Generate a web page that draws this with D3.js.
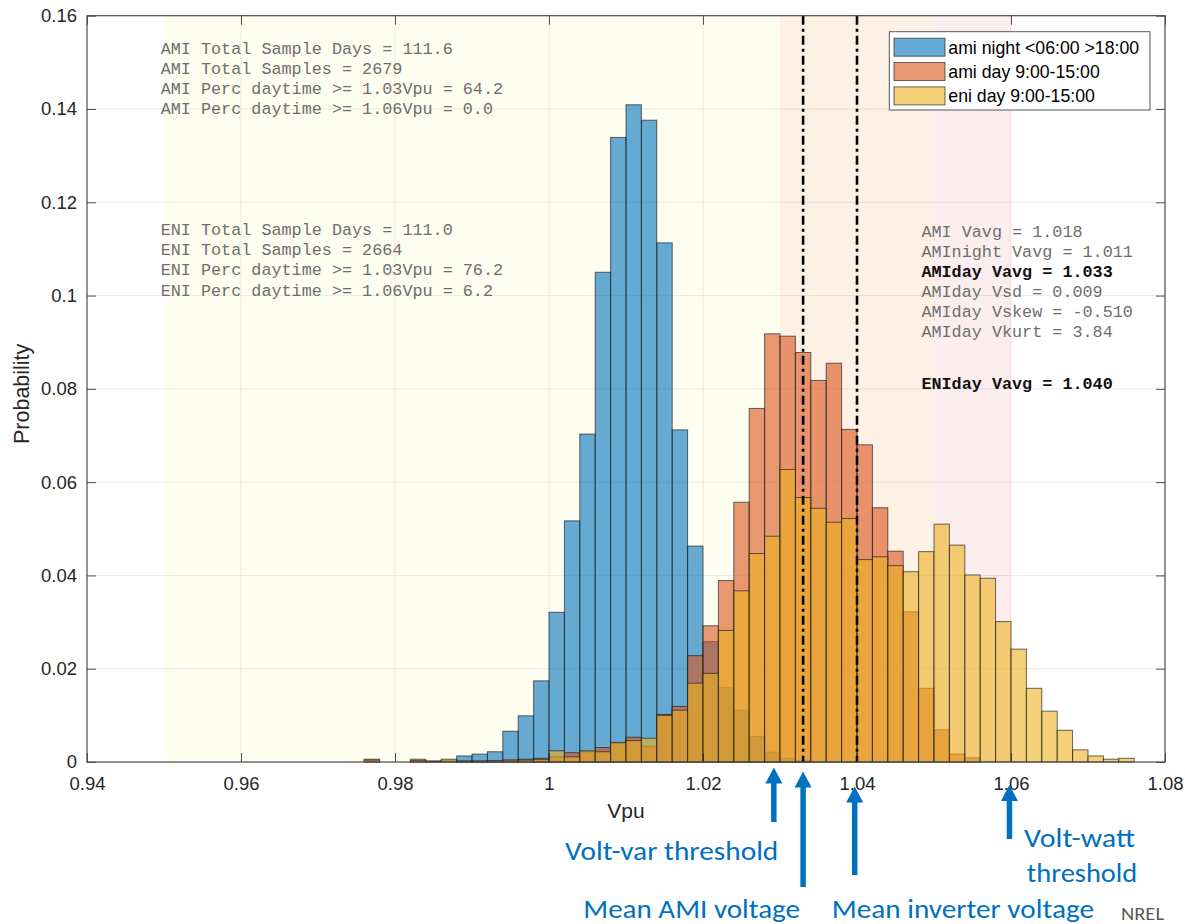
<!DOCTYPE html>
<html>
<head>
<meta charset="utf-8">
<script src="https://cdn.jsdelivr.net/npm/d3@7"></script>
<style>
  body { margin: 0; background: #ffffff; }
  svg { display: block; }
</style>
</head>
<body>
<svg id="chart" width="1185" height="924"></svg>
<script>
// ---- Histogram bins (left edges, Vpu) ----
const binStarts = [
  0.976, 0.978, 0.980, 0.982, 0.984, 0.986, 0.988, 0.990, 0.992, 0.994,
  0.996, 0.998, 1.000, 1.002, 1.004, 1.006, 1.008, 1.010, 1.012, 1.014,
  1.016, 1.018, 1.020, 1.022, 1.024, 1.026, 1.028, 1.030, 1.032, 1.034,
  1.036, 1.038, 1.040, 1.042, 1.044, 1.046, 1.048, 1.050, 1.052, 1.054,
  1.056, 1.058, 1.060, 1.062, 1.064, 1.066, 1.068, 1.070, 1.072, 1.074
];
const binWidth = 0.002;

// ---- Probabilities per bin ----
const amiNight = [
  0, 0, 0, 0, 0.0002, 0.0004, 0.0013, 0.0017, 0.0022, 0.0066,
  0.0099, 0.0174, 0.0321, 0.0517, 0.0703, 0.1050, 0.1339, 0.1409, 0.1376, 0.1113,
  0.0712, 0.0463, 0.0258, 0.0160, 0.0111, 0.0055, 0.0021, 0.0008, 0.0003, 0,
  0, 0, 0, 0, 0, 0, 0, 0, 0, 0,
  0, 0, 0, 0, 0, 0, 0, 0, 0, 0
];
const amiDay = [
  0.0006, 0, 0, 0.0006, 0.0002, 0, 0.0002, 0.0002, 0.0002, 0.0004,
  0.0006, 0.0008, 0.0011, 0.0020, 0.0022, 0.0031, 0.0040, 0.0053, 0.0034, 0.0102,
  0.0119, 0.0228, 0.0292, 0.0389, 0.0557, 0.0758, 0.0918, 0.0913, 0.0878, 0.0818,
  0.0855, 0.0713, 0.0680, 0.0545, 0.0452, 0.0322, 0.0158, 0.0069, 0.0017, 0.0009,
  0, 0, 0, 0, 0, 0, 0, 0, 0, 0
];
const eniDay = [
  0.0004, 0, 0, 0.0003, 0, 0.0006, 0.0002, 0.0002, 0.0003, 0.0004,
  0.0004, 0.0005, 0.0024, 0.0011, 0.0024, 0.0022, 0.0042, 0.0046, 0.0051, 0.0100,
  0.0111, 0.0169, 0.0190, 0.0282, 0.0367, 0.0447, 0.0484, 0.0627, 0.0567, 0.0544,
  0.0514, 0.0522, 0.0434, 0.0440, 0.0421, 0.0408, 0.0451, 0.0510, 0.0465, 0.0401,
  0.0394, 0.0301, 0.0242, 0.0158, 0.0109, 0.0068, 0.0026, 0.0013, 0.0006, 0.0008
];

const seriesNames = ["ami night <06:00 >18:00", "ami day 9:00-15:00", "eni day 9:00-15:00"];

// ---- Axes ----
const xTicks = [0.94, 0.96, 0.98, 1, 1.02, 1.04, 1.06, 1.08];
const yTicks = [0, 0.02, 0.04, 0.06, 0.08, 0.1, 0.12, 0.14, 0.16];

// ---- Reference bands (Vpu) and mean lines ----
const bandEdges = [0.95, 1.03, 1.05, 1.06];
const meanValues = [1.033, 1.040];

// ---- Statistics text ----
const amiStatLines = [
  "AMI Total Sample Days = 111.6",
  "AMI Total Samples = 2679",
  "AMI Perc daytime >= 1.03Vpu = 64.2",
  "AMI Perc daytime >= 1.06Vpu = 0.0"
];
const eniStatLines = [
  "ENI Total Sample Days = 111.0",
  "ENI Total Samples = 2664",
  "ENI Perc daytime >= 1.03Vpu = 76.2",
  "ENI Perc daytime >= 1.06Vpu = 6.2"
];
const avgStatLines = [
  "AMI Vavg = 1.018",
  "AMInight Vavg = 1.011",
  "AMIday Vavg = 1.033",
  "AMIday Vsd = 0.009",
  "AMIday Vskew = -0.510",
  "AMIday Vkurt = 3.84"
];
const avgStatBold = [false, false, true, false, false, false];
const eniAvgLine = "ENIday Vavg = 1.040";

// ---- Annotation arrows (Vpu they point to) ----
const arrowLabels = ["Volt-var threshold", "Mean AMI voltage", "Mean inverter voltage", "Volt-watt threshold"];
const arrowAt = [1.0292, 1.0330, 1.0397, 1.0598];

// ================= drawing =================
const svg = d3.select("#chart");
const W = 1185, H = 924;
const plot = { left: 87, right: 1165, top: 15.7, bottom: 762 };

const x = d3.scaleLinear().domain([0.94, 1.08]).range([plot.left, plot.right]);
const y = d3.scaleLinear().domain([0, 0.16]).range([plot.bottom, plot.top]);

const sansFont = "'Liberation Sans', Arial, Helvetica, sans-serif";
const monoFont = "'Courier New', 'Liberation Mono', monospace";
const calloutFont = "Calibri, Carlito, Lato, 'Open Sans', sans-serif";
const axisInk = "#262626";

svg.append("rect").attr("width", W).attr("height", H).attr("fill", "#ffffff");

// shaded voltage bands
const bandColors = ["#fefef0", "#fdf1e6", "#fceeee"];
const bands = d3.pairs(bandEdges);
svg.append("g").selectAll("rect").data(bands).join("rect")
  .attr("x", d => x(d[0]))
  .attr("y", plot.top)
  .attr("width", d => x(d[1]) - x(d[0]))
  .attr("height", plot.bottom - plot.top)
  .attr("fill", (d, i) => bandColors[i]);

// grid
const grid = svg.append("g").attr("stroke", "#000").attr("stroke-opacity", 0.08).attr("stroke-width", 1);
grid.selectAll("line.gx").data(xTicks.slice(1, -1)).join("line").attr("class", "gx")
  .attr("x1", d => x(d)).attr("x2", d => x(d))
  .attr("y1", plot.top).attr("y2", plot.bottom);
grid.selectAll("line.gy").data(yTicks.slice(1, -1)).join("line").attr("class", "gy")
  .attr("x1", plot.left).attr("x2", plot.right)
  .attr("y1", d => y(d)).attr("y2", d => y(d));

// histogram bars, drawn in series order with transparency
const seriesColors = ["#0072BD", "#D95319", "#EDB120"];
const seriesValues = [amiNight, amiDay, eniDay];
seriesValues.forEach((vals, si) => {
  const data = binStarts.map((b, i) => ({ b, v: vals[i] })).filter(d => d.v > 0);
  svg.append("g").selectAll("rect").data(data).join("rect")
    .attr("x", d => x(d.b))
    .attr("width", d => x(d.b + binWidth) - x(d.b))
    .attr("y", d => y(d.v))
    .attr("height", d => y(0) - y(d.v))
    .attr("fill", seriesColors[si])
    .attr("fill-opacity", 0.6)
    .attr("stroke", "#1a1a1a")
    .attr("stroke-opacity", 0.65)
    .attr("stroke-width", 1);
});

// mean voltage dash-dot lines
svg.append("g").selectAll("line").data(meanValues).join("line")
  .attr("x1", d => x(d)).attr("x2", d => x(d))
  .attr("y1", plot.top).attr("y2", plot.bottom)
  .attr("stroke", "#000")
  .attr("stroke-width", 2.6)
  .attr("stroke-dasharray", "9,4,3,4");

// axes (inward ticks on all four sides)
const fmt = d => String(d);
const gx = svg.append("g").attr("transform", `translate(0,${plot.bottom})`)
  .call(d3.axisBottom(x).tickValues(xTicks).tickFormat(fmt).tickSize(-9).tickSizeOuter(0).tickPadding(15));
const gy = svg.append("g").attr("transform", `translate(${plot.left},0)`)
  .call(d3.axisLeft(y).tickValues(yTicks).tickFormat(fmt).tickSize(-9).tickSizeOuter(0).tickPadding(10));
const gxt = svg.append("g").attr("transform", `translate(0,${plot.top})`)
  .call(d3.axisTop(x).tickValues(xTicks).tickFormat("").tickSize(-9).tickSizeOuter(0));
const gyr = svg.append("g").attr("transform", `translate(${plot.right},0)`)
  .call(d3.axisRight(y).tickValues(yTicks).tickFormat("").tickSize(-9).tickSizeOuter(0));
[gx, gy, gxt, gyr].forEach(g => {
  g.select(".domain").remove();
  g.selectAll(".tick line").attr("stroke", axisInk).attr("stroke-opacity", 0.8);
  g.selectAll(".tick text").attr("fill", axisInk).attr("font-family", sansFont).attr("font-size", 18.5);
});

// frame
svg.append("rect")
  .attr("x", plot.left).attr("y", plot.top)
  .attr("width", plot.right - plot.left).attr("height", plot.bottom - plot.top)
  .attr("fill", "none").attr("stroke", "#4a4a4a").attr("stroke-width", 1.2);

// axis titles
svg.append("text")
  .attr("x", (plot.left + plot.right) / 2).attr("y", 818)
  .attr("text-anchor", "middle")
  .attr("font-family", sansFont).attr("font-size", 21).attr("fill", axisInk)
  .text("Vpu");
svg.append("text")
  .attr("transform", `translate(28.5,${(plot.top + plot.bottom) / 2 + 5}) rotate(-90)`)
  .attr("text-anchor", "middle")
  .attr("font-family", sansFont).attr("font-size", 21.5).attr("fill", axisInk)
  .text("Probability");

// statistics text blocks
const statGrey = "#6e6e6e";
function textBlock(lines, x0, y0, step, boldFlags) {
  svg.append("g").selectAll("text").data(lines).join("text")
    .attr("x", x0).attr("y", (d, i) => y0 + i * step)
    .attr("font-family", monoFont).attr("font-size", 16.8)
    .attr("font-weight", (d, i) => boldFlags && boldFlags[i] ? "bold" : "normal")
    .attr("fill", (d, i) => boldFlags && boldFlags[i] ? "#111" : statGrey)
    .attr("xml:space", "preserve")
    .text(d => d);
}
textBlock(amiStatLines, 160.7, 54, 20.1);
textBlock(eniStatLines, 160.7, 234.5, 20.4);
textBlock(avgStatLines, 921.4, 236.7, 20, avgStatBold);
svg.append("text")
  .attr("x", 921.4).attr("y", 389.3)
  .attr("font-family", monoFont).attr("font-size", 16.8)
  .attr("font-weight", "bold").attr("fill", "#111")
  .text(eniAvgLine);

// legend
const legend = svg.append("g");
legend.append("rect")
  .attr("x", 889.3).attr("y", 31.7).attr("width", 260.7).attr("height", 78.3)
  .attr("fill", "#fff").attr("stroke", "#555").attr("stroke-width", 1);
const rowY = [47.2, 71.5, 95.9];
seriesNames.forEach((name, i) => {
  legend.append("rect")
    .attr("x", 894).attr("y", rowY[i] - 9).attr("width", 51).attr("height", 18)
    .attr("fill", seriesColors[i]).attr("fill-opacity", 0.6)
    .attr("stroke", "#1a1a1a").attr("stroke-opacity", 0.65);
  legend.append("text")
    .attr("x", 948.3).attr("y", rowY[i] + 6.3)
    .attr("font-family", sansFont).attr("font-size", 17.7).attr("fill", "#000")
    .text(name);
});

// annotation arrows and captions
const calloutBlue = "#0070C0";
const arrowGeom = [
  { tip: 767.5, end: 822 },
  { tip: 771.5, end: 887 },
  { tip: 786.5, end: 875 },
  { tip: 785, end: 839 }
];
const arrows = svg.append("g").attr("fill", calloutBlue).attr("stroke", calloutBlue);
arrowAt.forEach((v, i) => {
  const ax = x(v), g = arrowGeom[i];
  arrows.append("line")
    .attr("x1", ax).attr("x2", ax).attr("y1", g.tip + 12).attr("y2", g.end)
    .attr("stroke-width", 5.5);
  arrows.append("path")
    .attr("stroke", "none")
    .attr("d", `M${ax},${g.tip} L${ax + 8.5},${g.tip + 16} L${ax - 8.5},${g.tip + 16} Z`);
});

const captions = [
  { text: arrowLabels[0], x0: 565, x1: 778.3, base: 860 },
  { text: arrowLabels[1], x0: 583.3, x1: 800, base: 918 },
  { text: arrowLabels[2], x0: 831.7, x1: 1094, base: 918 },
  { text: "Volt-watt", x0: 1024, x1: 1135, base: 847 },
  { text: "threshold", x0: 1026.7, x1: 1137.3, base: 881.7 }
];
svg.append("g").selectAll("text").data(captions).join("text")
  .attr("x", d => d.x0).attr("y", d => d.base)
  .attr("textLength", d => d.x1 - d.x0)
  .attr("lengthAdjust", "spacingAndGlyphs")
  .attr("font-family", calloutFont).attr("font-size", 26)
  .attr("fill", calloutBlue)
  .text(d => d.text);

svg.append("text")
  .attr("x", 1121).attr("y", 920)
  .attr("textLength", 43).attr("lengthAdjust", "spacingAndGlyphs")
  .attr("font-family", calloutFont).attr("font-size", 18)
  .attr("fill", "#595959")
  .text("NREL");
</script>
</body>
</html>
